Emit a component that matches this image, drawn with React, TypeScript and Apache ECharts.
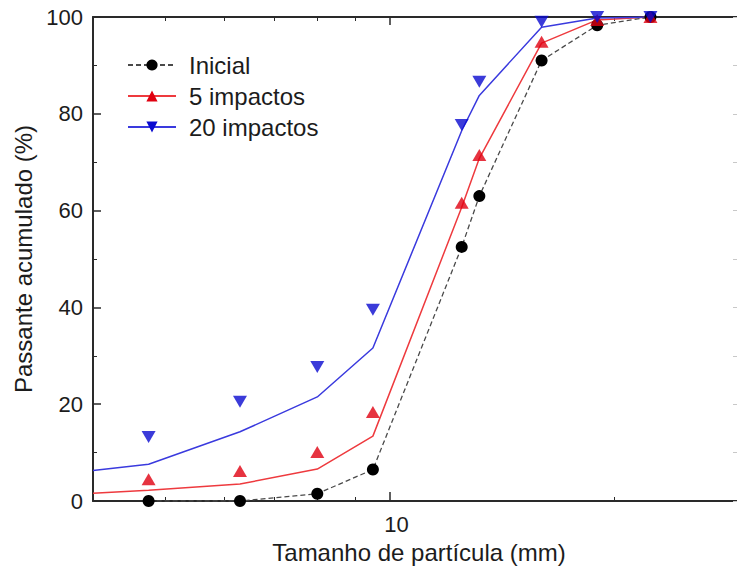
import React, { useEffect, useRef } from 'react';
import * as echarts from 'echarts';

// Sieve sizes (mm) of the measured points
const sizesMm = [4.75, 6.3, 8, 9.5, 12.5, 13.2, 16, 19, 22.4];
// Cumulative passing (%)
const inicial = [0, 0, 1.5, 6.5, 52.5, 63, 91, 98.3, 100];
const impactos5 = [4.5, 6.2, 10.1, 18.4, 61.6, 71.5, 94.9, 99.4, 100];
const impactos20 = [13.2, 20.5, 27.7, 39.5, 77.7, 86.6, 99, 100, 100];
// Model curves (fitted)
const fitSizesMm = [4, 4.75, 6.3, 8, 9.5, 12.5, 13.2, 16, 19, 22.4];
const fit5 = [1.6, 2.2, 3.5, 6.6, 13.4, 60.7, 70.8, 94.6, 99.4, 100];
const fit20 = [6.3, 7.6, 14.3, 21.5, 31.6, 76.5, 83.8, 97.9, 99.8, 100];
// Axis ticks
const xMajorTicks = [10];
const xMinorTicks = [5, 6, 7, 8, 9, 20];
const xMin = 4;
const xMax = 30;

const FONT = '"Liberation Sans", Arial, sans-serif';
const TEXT = '#1c1c1c';
const AXIS = '#2a2a2a';
const INV_TRIANGLE = 'path://M0,0L10,0L5,8.66Z';

function pairs(xs: number[], ys: number[]) {
  return xs.map((x, i) => [x, ys[i]]);
}

function xAxisBase(position: 'top' | 'bottom') {
  return {
    type: 'log' as const,
    logBase: 10,
    min: xMin,
    max: xMax,
    position,
    splitLine: { show: false },
    minorTick: { show: false },
    minorSplitLine: { show: false },
  };
}

export default function App() {
  const ref = useRef<HTMLDivElement>(null);
  useEffect(() => {
    if (!ref.current) return;
    const chart = echarts.init(ref.current, undefined, { renderer: 'svg' });
    const option: any = {
      animation: false,
      backgroundColor: '#ffffff',
      textStyle: { fontFamily: FONT },
      grid: { left: 93, top: 17, right: 0, bottom: 71, containLabel: false },
      legend: {
        data: ['Inicial', '5 impactos', '20 impactos'],
        orient: 'vertical',
        left: 127,
        top: 53,
        padding: 0,
        itemWidth: 48,
        itemHeight: 14,
        itemGap: 7,
        textStyle: { fontSize: 24, color: TEXT, fontFamily: FONT, padding: [0, 0, 0, 8] },
      },
      xAxis: [
        {
          ...xAxisBase('bottom'),
          name: 'Tamanho de partícula (mm)',
          nameLocation: 'middle',
          nameGap: 39,
          nameTextStyle: { fontSize: 24, color: TEXT, fontFamily: FONT, padding: [0, 0, 0, 0] },
          axisLine: { show: true, lineStyle: { color: AXIS, width: 2 } },
          axisTick: { show: true, inside: true, length: 9, customValues: xMajorTicks, lineStyle: { color: AXIS, width: 1.5 } },
          axisLabel: {
            show: true,
            customValues: xMajorTicks,
            fontSize: 22,
            color: TEXT,
            fontFamily: FONT,
            margin: 12,
            padding: [0, 0, 0, 14],
            formatter: (v: number) => String(Math.round(v)),
          },
        },
        {
          ...xAxisBase('bottom'),
          axisLine: { show: false },
          axisTick: { show: true, inside: true, length: 4, customValues: xMinorTicks, lineStyle: { color: AXIS, width: 1 } },
          axisLabel: { show: false },
        },
        {
          ...xAxisBase('top'),
          axisLine: { show: true, lineStyle: { color: AXIS, width: 2 } },
          axisTick: { show: true, inside: true, length: 8, customValues: xMajorTicks, lineStyle: { color: AXIS, width: 1.5 } },
          axisLabel: { show: false },
        },
        {
          ...xAxisBase('top'),
          axisLine: { show: false },
          axisTick: { show: true, inside: true, length: 4, customValues: xMinorTicks, lineStyle: { color: AXIS, width: 1 } },
          axisLabel: { show: false },
        },
      ],
      yAxis: [
        {
          type: 'value',
          min: 0,
          max: 100,
          interval: 20,
          position: 'left',
          name: 'Passante acumulado (%)',
          nameLocation: 'middle',
          nameGap: 58,
          nameTextStyle: { fontSize: 24, color: TEXT, fontFamily: FONT },
          axisLine: { show: true, lineStyle: { color: AXIS, width: 2 } },
          axisTick: { show: true, inside: true, length: 8, lineStyle: { color: AXIS, width: 1.5 } },
          minorTick: { show: true, splitNumber: 2, length: 4, lineStyle: { color: AXIS, width: 1 } },
          axisLabel: { fontSize: 22, color: TEXT, fontFamily: FONT, margin: 10 },
          splitLine: { show: false },
        },
        {
          type: 'value',
          min: 0,
          max: 100,
          interval: 20,
          position: 'right',
          axisLine: { show: false },
          axisTick: { show: true, inside: true, length: 12, lineStyle: { color: '#c8c8c8', width: 1 } },
          minorTick: { show: true, splitNumber: 2, length: 12, lineStyle: { color: '#c8c8c8', width: 1 } },
          axisLabel: { show: false },
          splitLine: { show: false },
        },
      ],
      series: [
        {
          name: 'Inicial',
          type: 'line',
          xAxisIndex: 0,
          data: pairs(sizesMm, inicial),
          symbol: 'circle',
          symbolSize: 12,
          showSymbol: true,
          itemStyle: { color: '#000000' },
          lineStyle: { color: '#4a4a4a', width: 1.3, type: [5, 3] },
          z: 3,
        },
        {
          name: '5 impactos',
          type: 'line',
          xAxisIndex: 0,
          data: pairs(fitSizesMm, fit5),
          symbol: 'triangle',
          symbolSize: 12,
          showSymbol: false,
          itemStyle: { color: '#e00010' },
          lineStyle: { color: '#ee3a3e', width: 1.5 },
          z: 2,
        },
        {
          name: '20 impactos',
          type: 'line',
          xAxisIndex: 0,
          data: pairs(fitSizesMm, fit20),
          symbol: INV_TRIANGLE,
          symbolSize: [12, 11],
          showSymbol: false,
          itemStyle: { color: '#0a0ad0' },
          lineStyle: { color: '#3a3ade', width: 1.5 },
          z: 2,
        },
        {
          name: '5 impactos',
          type: 'scatter',
          xAxisIndex: 0,
          data: pairs(sizesMm, impactos5),
          symbol: 'triangle',
          symbolSize: [14, 12],
          itemStyle: { color: '#e00010' },
          z: 4,
        },
        {
          name: '20 impactos',
          type: 'scatter',
          xAxisIndex: 0,
          data: pairs(sizesMm, impactos20),
          symbol: INV_TRIANGLE,
          symbolSize: [14, 12],
          itemStyle: { color: '#0a0ad0' },
          z: 4,
        },
      ],
    };
    chart.setOption(option);
    return () => chart.dispose();
  }, []);
  return (
    <div
      style={{ position: 'fixed', left: 0, top: 0, width: 737, height: 572, overflow: 'hidden', background: '#fff' }}
    >
      <div ref={ref} style={{ width: 745, height: 572 }} />
    </div>
  );
}
